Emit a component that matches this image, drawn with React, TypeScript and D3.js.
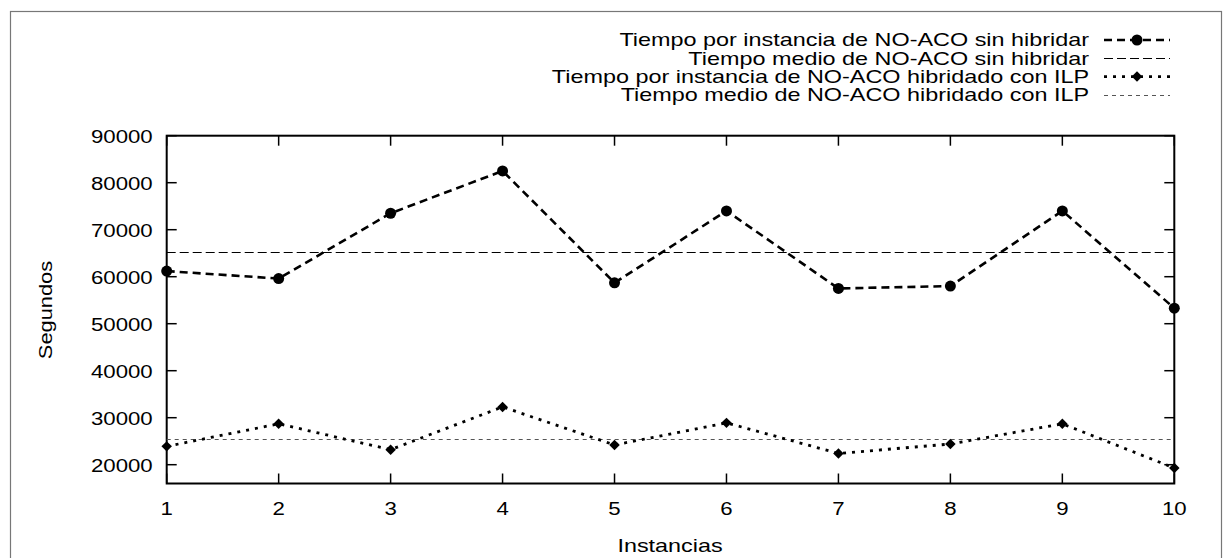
import React, { useRef, useEffect } from "react";
import * as d3 from "d3";

// Values (seconds per instance)
const instances = [1, 2, 3, 4, 5, 6, 7, 8, 9, 10];
const timeNoHybrid = [61200, 59600, 73500, 82500, 58700, 74000, 57500, 58000, 74000, 53300];
const timeHybrid = [23900, 28700, 23200, 32300, 24200, 28900, 22400, 24400, 28700, 19300];
const meanNoHybrid = 65250;
const meanHybrid = 25550;
const yTicks = [20000, 30000, 40000, 50000, 60000, 70000, 80000, 90000];
const legendLabels = [
  "Tiempo por instancia de NO-ACO sin hibridar",
  "Tiempo medio de NO-ACO sin hibridar",
  "Tiempo por instancia de NO-ACO hibridado con ILP",
  "Tiempo medio de NO-ACO hibridado con ILP",
];

const App = () => {
  const svgRef = useRef<SVGSVGElement>(null);

  const width = 1232;
  const height = 558;
  const left = 166.7;
  const right = 1174.3;
  const top = 135.7;
  const bottom = 483.5;
  const font = "'Liberation Sans', Arial, Helvetica, sans-serif";

  useEffect(() => {
    const svg = d3.select(svgRef.current);
    svg.selectAll("*").remove();

    const x = d3.scaleLinear().domain([1, 10]).range([left, right]);
    const y = d3.scaleLinear().domain([16000, 90000]).range([bottom, top]);

    // outer frame
    svg.append("rect")
      .attr("x", 10.5).attr("y", 11.5)
      .attr("width", 1211).attr("height", 600)
      .attr("fill", "white")
      .attr("stroke", "#777")
      .attr("stroke-width", 1.2);

    // gnuplot text is a bit wider than the plain font, so stretch it
    const text = (g, tx, ty, s, anchor, size = 19, sx = 1.17) =>
      g.append("text")
        .attr("transform", `translate(${tx},${ty}) scale(${sx},1)`)
        .attr("text-anchor", anchor)
        .attr("font-family", font)
        .attr("font-size", size)
        .attr("fill", "black")
        .text(s);

    // plot box
    svg.append("rect")
      .attr("x", left).attr("y", top)
      .attr("width", right - left).attr("height", bottom - top)
      .attr("fill", "none")
      .attr("stroke", "black")
      .attr("stroke-width", 2);

    const ticks = svg.append("g").attr("stroke", "black").attr("stroke-width", 1.5);
    const tickLen = 10;

    // y ticks (inward, mirrored on right)
    yTicks.forEach(v => {
      ticks.append("line").attr("x1", left).attr("x2", left + tickLen).attr("y1", y(v)).attr("y2", y(v));
      ticks.append("line").attr("x1", right).attr("x2", right - tickLen).attr("y1", y(v)).attr("y2", y(v));
      text(svg, left - 14, y(v) + 6.8, String(v), "end");
    });

    // x ticks (inward, mirrored on top)
    instances.forEach(i => {
      ticks.append("line").attr("x1", x(i)).attr("x2", x(i)).attr("y1", bottom).attr("y2", bottom - tickLen);
      ticks.append("line").attr("x1", x(i)).attr("x2", x(i)).attr("y1", top).attr("y2", top + tickLen);
      text(svg, x(i), 515, String(i), "middle");
    });

    // axis titles
    text(svg, 670, 552, "Instancias", "middle", 19, 1.23);
    svg.append("text")
      .attr("transform", `translate(52,310) rotate(-90) scale(1.15,1)`)
      .attr("text-anchor", "middle")
      .attr("font-family", font)
      .attr("font-size", 19)
      .text("Segundos");

    const line = d3.line<number>()
      .x((d, i) => x(instances[i]))
      .y(d => y(d));

    // mean lines, snapped to the pixel grid so they stay crisp
    const crisp = v => Math.round(y(v)) + 0.5;
    svg.append("line")
      .attr("x1", left).attr("x2", right)
      .attr("y1", crisp(meanNoHybrid)).attr("y2", crisp(meanNoHybrid))
      .attr("stroke", "black").attr("stroke-width", 1)
      .attr("stroke-dasharray", "9,4");
    svg.append("line")
      .attr("x1", left).attr("x2", right)
      .attr("y1", crisp(meanHybrid)).attr("y2", crisp(meanHybrid))
      .attr("stroke", "#555").attr("stroke-width", 1)
      .attr("stroke-dasharray", "4,4");

    // series without hybridisation
    svg.append("path")
      .attr("d", line(timeNoHybrid))
      .attr("fill", "none")
      .attr("stroke", "black")
      .attr("stroke-width", 2.6)
      .attr("stroke-dasharray", "8,5");
    svg.append("g")
      .selectAll("circle")
      .data(timeNoHybrid)
      .join("circle")
      .attr("cx", (d, i) => x(instances[i]))
      .attr("cy", d => y(d))
      .attr("r", 5.5)
      .attr("fill", "black");

    // hybrid series
    const diamond = d3.symbol().type(d3.symbolDiamond2).size(70);
    svg.append("path")
      .attr("d", line(timeHybrid))
      .attr("fill", "none")
      .attr("stroke", "black")
      .attr("stroke-width", 2.8)
      .attr("stroke-dasharray", "3,6");
    svg.append("g")
      .selectAll("path")
      .data(timeHybrid)
      .join("path")
      .attr("d", diamond)
      .attr("transform", (d, i) => `translate(${x(instances[i])},${y(d)})`)
      .attr("fill", "black");

    // legend
    const rowY = [40, 58.3, 76.6, 94.9];
    const sx1 = 1104, sx2 = 1170, textRight = 1089;
    legendLabels.forEach((lab, k) => {
      text(svg, textRight, rowY[k] + 6.3, lab, "end", 18, 1.3);
    });
    svg.append("line").attr("x1", sx1).attr("x2", sx2).attr("y1", rowY[0]).attr("y2", rowY[0])
      .attr("stroke", "black").attr("stroke-width", 2.6).attr("stroke-dasharray", "8,5");
    svg.append("circle").attr("cx", (sx1 + sx2) / 2).attr("cy", rowY[0]).attr("r", 5.5).attr("fill", "black");
    svg.append("line").attr("x1", sx1).attr("x2", sx2).attr("y1", 58.5).attr("y2", 58.5)
      .attr("stroke", "black").attr("stroke-width", 1).attr("stroke-dasharray", "9,4");
    svg.append("line").attr("x1", sx1).attr("x2", sx2).attr("y1", rowY[2]).attr("y2", rowY[2])
      .attr("stroke", "black").attr("stroke-width", 2.8).attr("stroke-dasharray", "3,6");
    svg.append("path").attr("d", diamond).attr("transform", `translate(${(sx1 + sx2) / 2},${rowY[2]})`).attr("fill", "black");
    svg.append("line").attr("x1", sx1).attr("x2", sx2).attr("y1", 95.5).attr("y2", 95.5)
      .attr("stroke", "#555").attr("stroke-width", 1).attr("stroke-dasharray", "4,4");
  }, []);

  return (
    <svg
      ref={svgRef}
      width={width}
      height={height}
      style={{ position: "absolute", left: 0, top: 0, background: "white" }}
    />
  );
};

export default App;
